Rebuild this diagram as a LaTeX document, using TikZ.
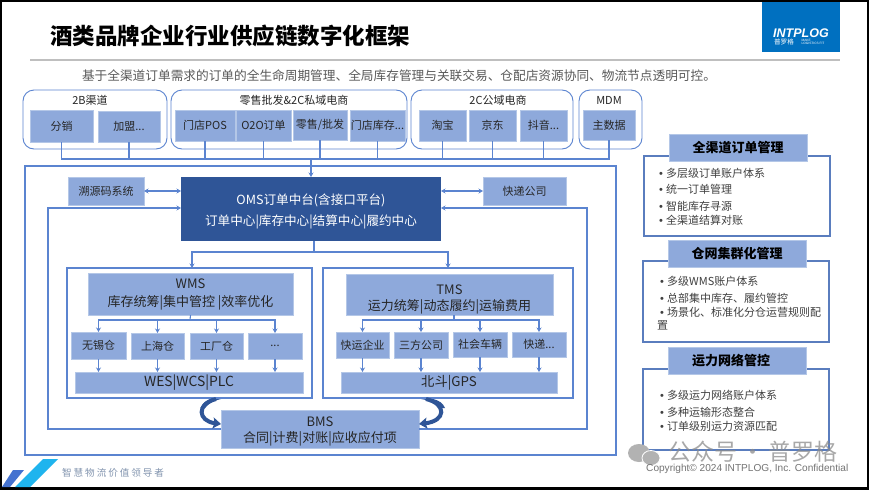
\documentclass[tikz,border=0pt]{standalone}
\usepackage{fontspec}
\setmainfont{Noto Sans CJK SC}
\newfontfamily\logofont{Liberation Sans}
\newfontfamily\slogfont[LetterSpace=20]{Noto Sans CJK SC}
\usetikzlibrary{positioning, arrows.meta, calc}
\definecolor{boxblue}{HTML}{8EA9DB}
\definecolor{boxedge}{HTML}{B4C7E7}
\definecolor{lineblue}{HTML}{5B84D0}
\definecolor{darkblue}{HTML}{2F5597}
\definecolor{panelline}{HTML}{5A7DBE}
\definecolor{textgrey}{HTML}{404040}
\definecolor{logoblue}{HTML}{0070C0}
\definecolor{footblue}{HTML}{4472D0}
\definecolor{footcyan}{HTML}{1FB4EE}
\definecolor{slogangrey}{HTML}{8496B0}
\tikzset{
  groupbox/.style={rectangle, rounded corners=11pt, draw=lineblue, line width=0.9pt, fill=white, inner sep=0pt, outer sep=0pt},
  framebox/.style={rectangle, draw=lineblue, line width=1.1pt, inner sep=0pt, outer sep=0pt},
  subbox/.style={rectangle, draw=boxedge, line width=0.6pt, fill=boxblue, text=black!85, inner sep=0pt, outer sep=0pt, font=\fontsize{11}{13}\selectfont},
  headbox/.style={subbox, font=\fontsize{13}{16}\selectfont, align=center},
  panelbox/.style={rectangle, draw=panelline, line width=1.1pt, fill=white, inner sep=0pt, outer sep=0pt},
  paneltitle/.style={rectangle, draw=boxedge, line width=0.6pt, fill=boxblue, inner sep=0pt, outer sep=0pt, minimum width=138, minimum height=27, font=\fontsize{13}{15}\selectfont\bfseries},
  paneltext/.style={anchor=west, inner sep=0pt, text=textgrey, font=\fontsize{11}{13}\selectfont},
  grouplabel/.style={inner sep=0pt, text=black!85, font=\fontsize{11}{13}\selectfont},
  link/.style={draw=lineblue, line width=1.1pt},
  arrow/.style={link, ->, >={Stealth[length=4.5pt,width=5pt]}},
  dblarrow/.style={link, <->, >={Stealth[length=4.5pt,width=5pt]}},
  bendarrow/.style={draw=darkblue, line width=4pt, ->, >={Stealth[length=8pt,width=11pt,inset=1.5pt]}}
}
\newcommand{\bul}{\makebox[7pt][l]{\logofont •}}

\begin{document}
\begin{tikzpicture}[x=1pt, y=-1pt]

    \useasboundingbox (0,0) rectangle (869,490);
    \fill [black] (0,0) rectangle (869,490);
    \fill [white] (2,2) rectangle (866.5,487);

    % Cabecera
    \node (title) [inner sep=0pt, font=\fontsize{22.5}{26}\selectfont\bfseries] at (230,36) {酒类品牌企业行业供应链数字化框架};
    \node (logo) [rectangle, fill=logoblue, minimum width=78, minimum height=50, inner sep=0pt] at (801,27) {};
    \node (logoname) [inner sep=0pt, text=white, font=\logofont\fontsize{12.5}{14}\selectfont\bfseries\itshape] at (801,33) {INTPLOG};
    \node (logocn) [inner sep=0pt, text=white, font=\fontsize{6.6}{8}\selectfont] at (784,42) {普罗格};
    \node (logoen) [inner sep=0pt, text=white, align=left, font=\logofont\fontsize{3.2}{3.6}\selectfont] at (813,42) {MAKE\\LOGISTICS FIT};
    \coordinate (ruleleft) at (30,60);
    \coordinate (ruleright) at (840,60);
    \draw [draw=black!25, line width=1.3pt] (ruleleft) -- (ruleright);
    \node (subtitle) [inner sep=0pt, text=black!65, font=\fontsize{12.68}{15}\selectfont] at (399,76) {基于全渠道订单需求的订单的全生命周期管理、全局库存管理与关联交易、仓配店资源协同、物流节点透明可控。};

    % Marco exterior
    \node (outer) [framebox, minimum width=591, minimum height=289] at (320.5,310.5) {};

    % Canales
    \node (group2b) [groupbox, minimum width=144, minimum height=59] at (95,119.5) {};
    \node (groupretail) [groupbox, minimum width=236, minimum height=59] at (289,119.5) {};
    \node (group2c) [groupbox, minimum width=162, minimum height=59] at (492,119.5) {};
    \node (groupmdm) [groupbox, minimum width=63, minimum height=59] at (610.5,119.5) {};
    \node (label2b) [grouplabel] at (90,100) {2B渠道};
    \node (labelretail) [grouplabel] at (294,100) {零售批发\&2C私域电商};
    \node (label2c) [grouplabel] at (498,100) {2C公域电商};
    \node (labelmdm) [grouplabel] at (609,100) {MDM};

    \node (fenxiao) [subbox, minimum width=63, minimum height=32] at (61.5,126) {分销};
    \node (jiameng) [subbox, minimum width=62, minimum height=31] at (129,126.5) {加盟...};
    \node (pos) [subbox, minimum width=60, minimum height=31] at (205,125.5) {门店POS};
    \node (otwoo) [subbox, minimum width=55, minimum height=31] at (263.5,125.5) {O2O订单};
    \node (lingshou) [subbox, minimum width=54, minimum height=30] at (320,125) {零售/批发};
    \node (kucun) [subbox, minimum width=55, minimum height=31] at (377.5,125.5) {门店库存...};
    \node (taobao) [subbox, minimum width=47, minimum height=31] at (442.5,125.5) {淘宝};
    \node (jingdong) [subbox, minimum width=47, minimum height=31] at (492.5,125.5) {京东};
    \node (douyin) [subbox, minimum width=47, minimum height=31] at (543.5,125.5) {抖音...};
    \node (zhushuju) [subbox, minimum width=52, minimum height=30] at (609,125) {主数据};

    % OMS y sistemas vecinos
    \node (oms) [rectangle, fill=darkblue, text=white, inner sep=0pt, outer sep=0pt, minimum width=260, minimum height=64, align=center, font=\fontsize{12.6}{21}\selectfont] at (311,209) {\rule{0pt}{16pt}OMS订单中台(含接口平台)\\订单中心|库存中心|结算中心|履约中心};
    \node (suyuan) [subbox, minimum width=76, minimum height=28] at (106,191) {溯源码系统};
    \node (kuaidi) [subbox, minimum width=83, minimum height=28] at (524.5,191) {快递公司};

    % WMS
    \node (wmsframe) [framebox, fill=white, minimum width=245, minimum height=130] at (189.5,333) {};
    \node (wmshead) [headbox, font=\fontsize{13}{18}\selectfont, minimum width=205, minimum height=42] at (190.5,294) {WMS\\库存统筹|集中管控 |效率优化};
    \node (wuxi) [subbox, minimum width=55, minimum height=27] at (98.5,345.5) {无锡仓};
    \node (shanghai) [subbox, minimum width=53, minimum height=26] at (157.5,346) {上海仓};
    \node (gongchang) [subbox, minimum width=53, minimum height=26] at (216.5,346) {工厂仓};
    \node (wmsmore) [subbox, minimum width=54, minimum height=26] at (275,346) {\raisebox{-2pt}{...}};
    \node (wesbar) [subbox, font=\fontsize{13.9}{15}\selectfont, minimum width=228, minimum height=21] at (189,382.5) {WES|WCS|PLC};

    % TMS
    \node (tmsframe) [framebox, fill=white, minimum width=250, minimum height=130] at (448,333) {};
    \node (tmshead) [headbox, minimum width=207, minimum height=41] at (449.5,294.5) {\rule{0pt}{19.4pt}TMS\\运力统筹|动态履约|运输费用};
    \node (kuaiyun) [subbox, minimum width=53, minimum height=26] at (362.5,345) {快运企业};
    \node (sanfang) [subbox, minimum width=54, minimum height=26] at (421,345) {三方公司};
    \node (shehui) [subbox, minimum width=54, minimum height=25] at (480,344.5) {社会车辆};
    \node (tmsmore) [subbox, minimum width=54, minimum height=25] at (539,344.5) {快递...};
    \node (gpsbar) [subbox, font=\fontsize{13.3}{15}\selectfont, minimum width=216, minimum height=21] at (449,382.5) {北斗|GPS};

    % BMS
    \node (bms) [headbox, minimum width=198, minimum height=38] at (320,429) {\rule{0pt}{15.5pt}BMS\\合同|计费|对账|应收应付项};

    % Flechas de canales a OMS
    \coordinate (chanbus) at (311,159);
    \draw [link] (fenxiao.south) |- (chanbus);
    \draw [link] (jiameng.south) |- (chanbus);
    \draw [link] (pos.south) |- (chanbus);
    \draw [link] (otwoo.south) |- (chanbus);
    \draw [link] (lingshou.south) |- (chanbus);
    \draw [link] (kucun.south) |- (chanbus);
    \draw [link] (taobao.south) |- (chanbus);
    \draw [link] (jingdong.south) |- (chanbus);
    \draw [link] (douyin.south) |- (chanbus);
    \draw [link] (zhushuju.south) |- (chanbus);
    \draw [arrow] (chanbus) -- (oms.north);

    % Flechas alrededor de OMS
    \draw [dblarrow] (suyuan.east) -- (suyuan.east -| oms.west);
    \draw [dblarrow] (kuaidi.west -| oms.east) -- (kuaidi.west);
    \coordinate (bmsleft) at (221,429);
    \coordinate (bmsright) at (419,429);
    \coordinate (retleft) at (48,208);
    \coordinate (retright) at (587,208);
    \draw [arrow] (bmsleft) -| (retleft) -- (retleft -| oms.west);
    \draw [arrow] (bmsright) -| (retright) -- (retright -| oms.east);
    \coordinate (omsout) at (314,241);
    \coordinate (split) at (314,252);
    \coordinate (wmsin) at (192,268);
    \draw [arrow] (omsout) -- (split) -| (wmsin);
    \draw [arrow] (split) -| (tmsframe.north);

    % Flechas dentro de WMS
    \coordinate (wmsbus) at (190,320);
    \draw [link] (wmshead.south) -- (wmsbus);
    \draw [arrow] (wmsbus) -| (wuxi.north);
    \draw [arrow] (wmsbus) -| (shanghai.north);
    \draw [arrow] (wmsbus) -| (gongchang.north);
    \draw [arrow] (wmsbus) -| (wmsmore.north);
    \draw [arrow] (wuxi.south) -- (wuxi.south |- wesbar.north);
    \draw [arrow] (shanghai.south) -- (shanghai.south |- wesbar.north);
    \draw [arrow] (gongchang.south) -- (gongchang.south |- wesbar.north);
    \draw [arrow] (wmsmore.south) -- (wmsmore.south |- wesbar.north);

    % Flechas dentro de TMS
    \coordinate (tmsbus) at (454,320);
    \draw [link] (tmsbus |- tmshead.south) -- (tmsbus);
    \draw [arrow] (tmsbus) -| (kuaiyun.north);
    \draw [arrow] (tmsbus) -| (sanfang.north);
    \draw [arrow] (tmsbus) -| (shehui.north);
    \draw [arrow] (tmsbus) -| (tmsmore.north);
    \draw [arrow] (kuaiyun.south) -- (kuaiyun.south |- gpsbar.north);
    \draw [arrow] (sanfang.south) -- (sanfang.south |- gpsbar.north);
    \draw [arrow] (shehui.south) -- (shehui.south |- gpsbar.north);
    \draw [arrow] (tmsmore.south) -- (tmsmore.south |- gpsbar.north);

    % Flechas curvas hacia BMS
    \coordinate (wmsbend) at (216,399);
    \coordinate (tmsbend) at (426,399);
    \draw [bendarrow] (wmsbend) .. controls (196,404) and (198,421) .. (bmsleft |- 0,424);
    \draw [bendarrow] (tmsbend) .. controls (447,404) and (446,421) .. (bmsright |- 0,424);
    \fill [darkblue] (211,399) -- (221,399) .. controls (214,400.5) and (209,403) .. (205,408) -- (200.5,408) .. controls (202.5,403) and (206,400.5) .. cycle;
    \fill [darkblue] (421,399) -- (433,399) .. controls (439,400.5) and (443,403) .. (445,408) -- (440,408) .. controls (436,403) and (430,400.5) .. cycle;

    % Paneles derechos
    \node (panelorder) [panelbox, minimum width=186, minimum height=80] at (737,196) {};
    \node (titleorder) [paneltitle] at (738,147.5) {全渠道订单管理};
    \node (itemordera) [paneltext] at (659,173) {\bul 多层级订单账户体系};
    \node (itemorderb) [paneltext] at (659,189.5) {\bul 统一订单管理};
    \node (itemorderc) [paneltext] at (659,206) {\bul 智能库存寻源};
    \node (itemorderd) [paneltext] at (659,220) {\bul 全渠道结算对账};

    \node (panelware) [panelbox, minimum width=186, minimum height=81] at (736,301.5) {};
    \node (titleware) [paneltitle] at (737,253.5) {仓网集群化管理};
    \node (itemwarea) [paneltext] at (660,281) {\bul 多级WMS账户体系};
    \node (itemwareb) [paneltext] at (660,298) {\bul 总部集中库存、履约管控};
    \node (itemwarec) [paneltext] at (660,312) {\bul 场景化、标准化分仓运营规则配};
    \node (itemwared) [paneltext] at (657,325) {置};

    \node (paneltrans) [panelbox, minimum width=186, minimum height=81] at (736,409.5) {};
    \node (titletrans) [paneltitle] at (737,361) {\hspace*{-12pt}运力网络管控};
    \node (itemtransa) [paneltext] at (660,395) {\bul 多级运力网络账户体系};
    \node (itemtransb) [paneltext] at (660,412) {\bul 多种运输形态整合};
    \node (itemtransc) [paneltext] at (660,426) {\bul 订单级别运力资源匹配};

    % Pie de pagina
    \fill [fill=footblue] (13,470) -- (24,470) -- (10,487) -- (2,487) -- cycle;
    \fill [fill=footcyan] (43,459) -- (58,459) -- (30,487) -- (15,487) -- cycle;
    \node (slogan) [inner sep=0pt, anchor=west, text=slogangrey, font=\slogfont\fontsize{9.6}{12}\selectfont] at (62,473) {智慧物流价值领导者};

    % Marca de agua
    \fill [black!30] (639,453) ellipse [x radius=11, y radius=9];
    \fill [black!30, draw=white, line width=0.8pt] (651,458) ellipse [x radius=9, y radius=7.5];
    \node (mark) [inner sep=0pt, anchor=west, text=black!45, opacity=0.75, font=\fontsize{23}{26}\selectfont] at (668,452) {公众号\hspace{-1pt} · \hspace{-1pt}普罗格};
    \node (copyright) [inner sep=0pt, anchor=west, text=black!55, font=\logofont\fontsize{10.1}{11}\selectfont] at (646,469) {Copyright© 2024 INTPLOG, Inc. Confidential};

\end{tikzpicture}
\end{document}
